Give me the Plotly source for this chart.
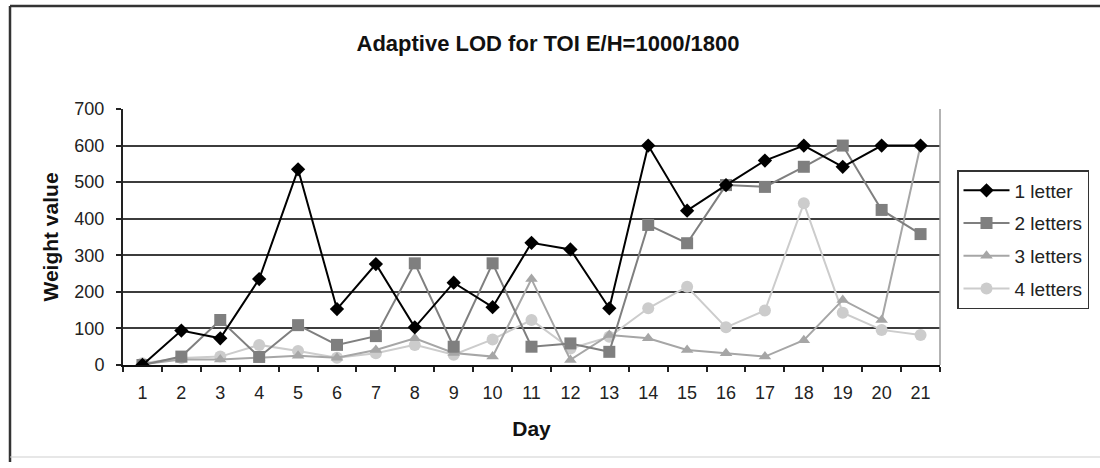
import plotly.graph_objects as go

days = [str(d) for d in range(1, 22)]
one_letter = [0, 94, 73, 235, 535, 153, 276, 103, 225, 158, 334, 316, 155, 600, 422, 492, 559, 600, 542, 600, 600]
two_letters = [0, 23, 123, 22, 109, 55, 79, 278, 50, 278, 50, 59, 36, 383, 333, 492, 487, 542, 600, 424, 358]
three_letters = [2, 15, 15, 20, 25, 20, 41, 73, 33, 23, 235, 14, 82, 73, 41, 32, 23, 68, 178, 123, 600]
four_letters = [5, 19, 23, 55, 38, 20, 32, 55, 28, 70, 123, 45, 77, 155, 214, 103, 149, 442, 143, 96, 82]
y_ticks = [0, 100, 200, 300, 400, 500, 600, 700]

W, H = 1100, 468
ML, MR, MT, MB = 123, 160, 109, 103
PW, PH = W - ML - MR, H - MT - MB


def px(x):
    return (x - ML) / PW


def py(y):
    return (H - MB - y) / PH


FONT = "Liberation Sans, Arial, sans-serif"

series = [
    ("1 letter", one_letter, "#000000", "diamond", 11),
    ("2 letters", two_letters, "#7f7f7f", "square", 12),
    ("3 letters", three_letters, "#a6a6a6", "triangle-up", 11),
    ("4 letters", four_letters, "#cccccc", "circle", 12),
]

fig = go.Figure()
# add in reverse so that "1 letter" is drawn on top
for rank, (name, vals, col, sym, sz) in reversed(list(enumerate(series))):
    fig.add_trace(go.Scatter(
        x=days, y=vals, name=name, mode="lines+markers",
        line=dict(color=col, width=2),
        marker=dict(symbol=sym, size=sz, color=col),
        legendgroup=name, legendrank=rank + 1,
    ))

fig.update_layout(
    width=W, height=H,
    margin=dict(l=ML, r=MR, t=MT, b=MB, autoexpand=False),
    paper_bgcolor="white", plot_bgcolor="white",
    font=dict(family=FONT, color="#222222", size=18),
    title=dict(text="<b>Adaptive LOD for TOI E/H=1000/1800</b>",
               x=548 / W, xanchor="center", xref="container",
               y=1 - 43 / H, yanchor="middle", yref="container",
               font=dict(size=22, color="#111111")),
    showlegend=True,
    legend=dict(x=px(957), y=py(170), xanchor="left", yanchor="top",
                bordercolor="#333333", borderwidth=1.5, bgcolor="white",
                traceorder="grouped", tracegroupgap=5,
                itemwidth=46, font=dict(size=19, color="#222222")),
    xaxis=dict(
        type="category", categoryorder="array", categoryarray=days,
        range=[-0.5, len(days) - 0.5],
        tickson="boundaries", ticks="outside", ticklen=5, tickwidth=1.5, tickcolor="#222",
        showline=True, linecolor="#111111", linewidth=2,
        showgrid=False, zeroline=False, ticklabelstandoff=10,
        title=dict(text="<b>Day</b>", standoff=20, font=dict(size=21, color="#111")),
    ),
    yaxis=dict(
        range=[0, 700], tickvals=y_ticks, ticks="outside", ticklen=5, tickwidth=1.5, tickcolor="#222",
        showline=True, linecolor="#222222", linewidth=2,
        showgrid=True, gridcolor="#3c3c3c", gridwidth=1.5, zeroline=False,
        ticklabelstandoff=8,
        title=dict(text="<b>Weight value</b>", standoff=10, font=dict(size=21, color="#111")),
    ),
    shapes=[
        dict(type="line", xref="paper", yref="paper", x0=1, x1=1, y0=0, y1=1,
             line=dict(color="#9a9a9a", width=1.5)),
        dict(type="line", xref="paper", yref="paper", x0=px(10), x1=px(10), y0=py(6), y1=py(462),
             line=dict(color="#333333", width=2.5)),
        dict(type="line", xref="paper", yref="paper", x0=px(10), x1=px(1100), y0=py(6), y1=py(6),
             line=dict(color="#333333", width=2.5)),
        dict(type="line", xref="paper", yref="paper", x0=px(10), x1=px(1100), y0=py(457), y1=py(457),
             line=dict(color="#cfcfcf", width=1)),
    ],
)

fig.write_html("out.html")
